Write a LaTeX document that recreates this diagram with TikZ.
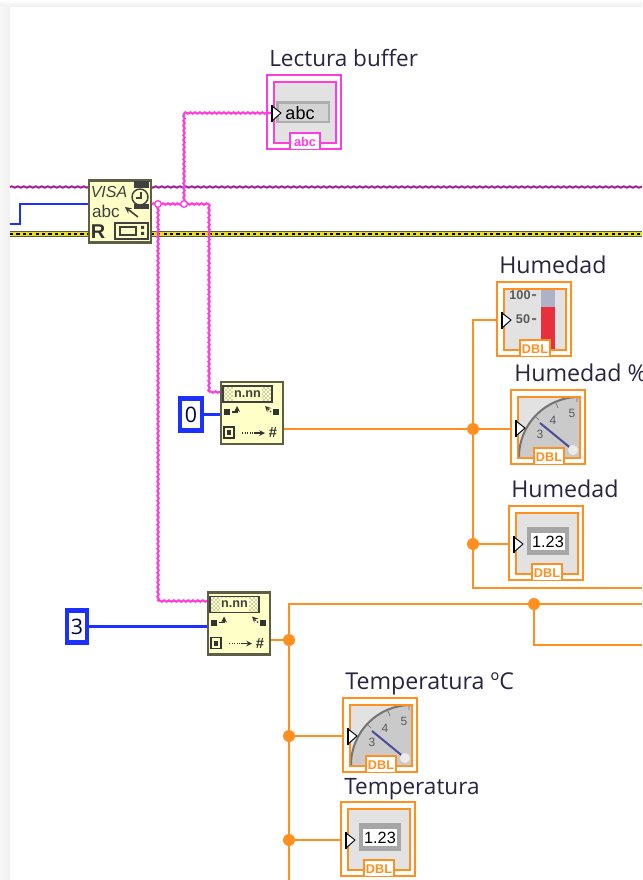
\documentclass[tikz,border=0pt]{standalone}
\usepackage{fontspec}
\setmainfont{Open Sans}
\newfontfamily\arialf{Liberation Sans}
\usetikzlibrary{decorations.pathmorphing,patterns}
\definecolor{orw}{HTML}{FF9020}
\definecolor{mag}{HTML}{FF3CDC}
\definecolor{pur}{HTML}{A0209C}
\definecolor{blu}{HTML}{1C30FF}
\definecolor{vi}{HTML}{FFFFC8}
\definecolor{viedge}{HTML}{5E5E46}
\definecolor{panel}{HTML}{E2E2E2}
\definecolor{dial}{HTML}{CACACA}
\definecolor{lab}{HTML}{2A2440}
\definecolor{redbar}{HTML}{E8303C}
\definecolor{tubetop}{HTML}{AEB2C4}
\tikzset{
  wire/.style={orw,line width=1.6pt},
  strw/.style={mag,line width=1.6pt,decorate,decoration={snake,segment length=3.6pt,amplitude=.5pt}},
  numw/.style={blu,line width=1.6pt},
  jn/.style={circle,fill=orw,inner sep=0pt,minimum size=9pt},
  sjn/.style={circle,draw=mag,line width=1pt,fill=white,inner sep=0pt,minimum size=5pt},
  lbl/.style={anchor=base west,inner sep=0pt,text=lab,font=\fontsize{16.9}{18}\selectfont},
  lblw/.style={anchor=base west,inner sep=0pt,text=lab,font=\fontsize{17.4}{18}\selectfont},
  vibox/.style={rectangle,draw=viedge,fill=vi,line width=1.6pt,inner sep=0pt,minimum width=46.5pt,minimum height=46.5pt},
  constbox/.style={rectangle,draw=blu,fill=white,line width=3.2pt,inner sep=0pt,text=black!70!blue,font=\fontsize{16}{18}\selectfont},
  outerbox/.style={rectangle,fill=white,inner sep=0pt,minimum width=55.5pt,minimum height=55.5pt,anchor=north west},
  tiny/.style={inner sep=0pt,font=\arialf\fontsize{9}{10}\selectfont,text=black!65},
}
% frame, inner panel: #1 name, #2 x, #3 y, #4 colour
\newcommand{\lvframe}[4]{%
  \node[outerbox] (#1) at (#2,#3) {};
  \draw[#4,line width=1.5pt] (#2,#3) rectangle (#2+74,#3+74);
  \draw[#4,fill=panel,line width=1.5pt] (#2+6.5,#3+7) rectangle (#2+69,#3+68);
}
\newcommand{\lvtag}[2]{%
  \fill[white] (23,58) rectangle (53,74);
  \draw[#1,line width=1.5pt] (23,74) -- (23,58) -- (53,58) -- (53,74);
  \node[inner sep=0pt,text=#1,font=\arialf\bfseries\fontsize{9.5}{10}\selectfont] at (38,67) {#2};
}
\newcommand{\lvterm}{%
  \draw[black,fill=white,line width=.7pt] (5,31) -- (14,38) -- (5,46) -- cycle;
  \draw[black,line width=1.3pt] (5,30) -- (5,47);
}
\newcommand{\lvgauge}{%
  \begin{scope}
  \clip (7.5,8) rectangle (68,67.5);
  \fill[dial] (8,67) arc[start angle=180,end angle=90,radius=45pt] -- (68,67) -- cycle;
  \draw[black!55,line width=1.5pt] (8,67) arc[start angle=180,end angle=90,radius=45pt];
  \draw[black!55,line width=.5pt] (24,26) -- (28,30) (45,13) -- (47,18) (66,7) -- (66,12);
  \end{scope}
  \draw[black!55!blue!70!white,line width=1.5pt] (29,33) -- (62,60);
  \fill[black!8] (62,60) circle[radius=3.8pt];
  \node[tiny] at (29,44) {3};
  \node[tiny] at (42,30) {4};
  \node[tiny] at (61,23) {5};
}
\newcommand{\lvnum}{%
  \fill[black!35] (18,21) rectangle (60,49);
  \fill[white] (22,27) rectangle (56,44);
  \node[inner sep=0pt,text=black,font=\arialf\fontsize{12.2}{12}\selectfont] at (39,36) {1.23};
}
\newcommand{\lvscan}[1]{%
  \node[vibox] (#1) at (32,32) {};
  \draw[black!75,line width=.8pt,pattern=crosshatch dots,pattern color=black!75] (3,5) rectangle (52,21);
  \fill[vi] (13,6) rectangle (42,20);
  \node[inner sep=0pt,font=\arialf\bfseries\fontsize{9.5}{10}\selectfont,text=black!75] at (27.5,13) {n.nn};
  \fill[black!80] (4,28) rectangle (10,34);
  \draw[black!80,line width=1pt,->,>=stealth] (12,31) -- (17,31) -- (17,25);
  \fill[black!80] (53,28) rectangle (59,34);
  \draw[black!80,line width=1pt,densely dotted,->,>=stealth] (51,31) -- (45,25);
  \draw[black!80,line width=1pt] (4,46) rectangle (14,57);
  \fill[black!80] (7,49) rectangle (11,54);
  \draw[black!80,line width=.9pt,densely dotted] (22,52) -- (34,52);
  \draw[black!80,line width=.9pt,->,>=stealth] (34,52) -- (45,52);
  \node[inner sep=0pt,font=\arialf\bfseries\fontsize{11}{10}\selectfont,text=black!80] at (53,52) {\#};
}
\begin{document}
\begin{tikzpicture}[x=0.75pt,y=-0.75pt]
\useasboundingbox (0,0) rectangle (642,880);
\fill[white] (0,0) rectangle (642,880);
\shade[top color=white,bottom color=black!7] (0,0) rectangle (642,7);
\shade[left color=black!3,right color=black!6] (0,7) rectangle (10,880);

% through wires
\coordinate (pL) at (10,187); \coordinate (pR) at (642,187);
\draw[pur,line width=1.5pt,decorate,decoration={snake,segment length=4.5pt,amplitude=.5pt}] (pL) -- (pR);
\coordinate (yL) at (10,234); \coordinate (yR) at (642,234);
\draw[black!60!yellow!70!black,line width=4.4pt] (yL) -- (yR);
\draw[yellow!90!black,line width=3pt] (yL) -- (yR);
\draw[black,line width=1.3pt,dash pattern=on 2.4pt off 2.4pt] (yL) -- (yR);

% VISA read
\node[vibox] (visa) at (120,211.5) {};
\node[inner sep=0pt,font=\arialf\itshape\fontsize{12}{12}\selectfont,text=black!75] at (109,192) {VISA};
\node[inner sep=0pt,font=\arialf\fontsize{12.8}{12}\selectfont,text=black!75] at (106,211) {abc};
\draw[black!75,line width=1.2pt,<-,>=stealth] (125,207) -- (138,217);
\node[inner sep=0pt,font=\arialf\bfseries\fontsize{15}{13}\selectfont,text=black!80] at (98,232) {R};
\fill[black!75] (134,181) rectangle (149,188);
\fill[black!75] (134,204) rectangle (149,209);
\draw[black!75,fill=vi,line width=1.1pt] (140,197) circle[radius=6pt];
\draw[black!75,line width=.9pt] (141,192) -- (141,198) -- (136,198);
\draw[black!75,line width=1.1pt] (115,223) rectangle (148,239);
\draw[black!75,line width=.9pt] (120,227) rectangle (136,235);
\fill[black!75] (141,226) rectangle (144,229) (141,232) rectangle (144,235);

% numeric wire into VISA
\coordinate (bL) at (10,224); \coordinate (bK) at (20,204);
\draw[numw] (bL) -| (bK) -- (visa.west |- bK);

% scans
\begin{scope}[shift={(220,381)}]\lvscan{scanA}\end{scope}
\begin{scope}[shift={(207,591.5)}]\lvscan{scanB}\end{scope}

% constants
\node[constbox,minimum width=16pt,minimum height=24pt] (cz) at (191,414.5) {0};
\node[constbox,minimum width=14.5pt,minimum height=24pt] (cth) at (77,626.5) {3};
\draw[numw] (cz.east) -- (scanA.west |- cz.east);
\draw[numw] (cth.east) -- (scanB.west |- cth.east);

% indicators
\lvframe{buf}{267}{75}{mag}
\begin{scope}[shift={(267,75)}]
  \fill[black!32] (9,26) rectangle (63,48);
  \fill[black!17] (12,29) rectangle (61,46);
  \node[inner sep=0pt,text=black,font=\arialf\fontsize{13.5}{12}\selectfont] at (33,38.5) {abc};
  \lvtag{mag}{abc}
  \lvterm
\end{scope}
\lvframe{hthermo}{497}{282}{orw}
\begin{scope}[shift={(497,282)}]
  \node[tiny,font=\arialf\bfseries\fontsize{9.5}{10}\selectfont] at (23,13) {100};
  \node[tiny,font=\arialf\bfseries\fontsize{9.5}{10}\selectfont] at (26,37) {50};
  \fill[black!55] (35,12) rectangle (39,14) (35,36) rectangle (39,38);
  \fill[tubetop] (44,8) rectangle (58,25);
  \fill[redbar] (44,25) rectangle (58,67);
  \lvtag{orw}{DBL}
  \lvterm
\end{scope}
\lvframe{hgauge}{511}{390}{orw}
\begin{scope}[shift={(511,390)}]\lvgauge\lvtag{orw}{DBL}\lvterm\end{scope}
\lvframe{hnum}{509}{506}{orw}
\begin{scope}[shift={(509,506)}]\lvnum\lvtag{orw}{DBL}\lvterm\end{scope}
\lvframe{tgauge}{343}{698}{orw}
\begin{scope}[shift={(343,698)}]\lvgauge\lvtag{orw}{DBL}\lvterm\end{scope}
\lvframe{tnum}{341}{802}{orw}
\begin{scope}[shift={(341,802)}]\lvnum\lvtag{orw}{DBL}\lvterm\end{scope}

% labels
\node[lbl] (l1) at (269,67) {Lectura buffer};
\node[lblw] (l2) at (499,273) {Humedad};
\node[lblw] (l3) at (514,381) {Humedad \%};
\node[lblw] (l4) at (511,497) {Humedad};
\node[lblw] (l5) at (345,689) {Temperatura ºC};
\node[lbl] (l6) at (344,794) {Temperatura};

% string wires
\coordinate (sJ1) at (158,204);
\coordinate (sJ2) at (184,204);
\coordinate (sT) at (209,204);
\coordinate (sC) at (184,113);
\coordinate (sA) at (209,392);
\coordinate (sB) at (158,601);
\coordinate (sD) at (271,113);
\draw[strw] (visa.east |- sJ1) -- (sT);
\draw[strw] (sT) -- (sA);
\draw[strw] (sA) -- (scanA.west |- sA);
\draw[strw] (sJ2) -- (sC);
\draw[strw] (sC) -- (sD);
\draw[strw] (sJ1) -- (sB);
\draw[strw] (sB) -- (scanB.west |- sB);
\node[sjn] at (sJ1) {};
\node[sjn] at (sJ2) {};

% orange wires: humidity
\coordinate (jA) at (473,429);
\coordinate (jB) at (473,544);
\coordinate (aTop) at (473,320);
\coordinate (aBot) at (473,588);
\coordinate (rA) at (642,588);
\draw[wire] (scanA.east |- jA) -- (jA);
\draw[wire] (hthermo.west |- aTop) -- (aTop) -- (aBot) -- (rA);
\draw[wire] (jA) -- (hgauge.west |- jA);
\draw[wire] (jB) -- (hnum.west |- jB);
\node[jn] (jAn) at (jA) {};
\node[jn] (jBn) at (jB) {};
% orange wires: temperature
\coordinate (jC) at (289,640);
\coordinate (jD) at (289,736);
\coordinate (jE) at (289,840);
\coordinate (bTop) at (289,604);
\coordinate (bEnd) at (289,880);
\coordinate (jF) at (534,604);
\coordinate (rB) at (642,604);
\coordinate (fBot) at (534,645);
\coordinate (rC) at (642,645);
\draw[wire] (scanB.east |- jC) -- (jC);
\draw[wire] (bEnd) -- (bTop) -- (rB);
\draw[wire] (jF) -- (fBot) -- (rC);
\draw[wire] (jD) -- (tgauge.west |- jD);
\draw[wire] (jE) -- (tnum.west |- jE);
\node[jn] at (jC) {};
\node[jn] at (jD) {};
\node[jn] at (jE) {};
\node[jn] at (jF) {};
\end{tikzpicture}
\end{document}
